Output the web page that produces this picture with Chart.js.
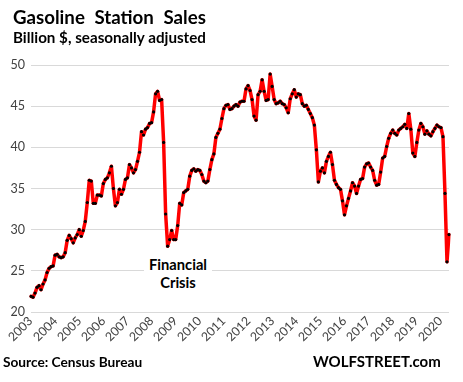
<!DOCTYPE html>
<html><head><meta charset="utf-8">
<script src="https://cdn.jsdelivr.net/npm/chart.js@4"></script>
<style>
html,body{margin:0;padding:0;background:#fff;}
#wrap{position:relative;width:463px;height:382px;overflow:hidden;font-family:Lato,'Open Sans',sans-serif;}
canvas{position:absolute;left:0;top:0;}
.t{position:absolute;white-space:pre;font-weight:bold;color:#000;line-height:1;}
.xl{position:absolute;white-space:pre;font-size:12.3px;line-height:12px;height:12px;color:#404040;transform-origin:100% 50%;transform:rotate(-45deg);}
#note{position:absolute;left:144px;top:255px;width:68px;height:38px;background:#fff;text-align:center;font-weight:bold;font-size:14.7px;line-height:18px;color:#000;}
</style></head><body>
<div id="wrap">
<canvas id="c" width="463" height="382"></canvas>
<div class="t" style="left:13px;top:8px;font-size:18.7px;word-spacing:5px">Gasoline Station Sales</div>
<div class="t" style="left:13px;top:30px;font-size:15.2px">Billion $, seasonally adjusted</div>
<div id="note">Financial<br>Crisis</div>
<div class="t" style="left:3px;top:355px;font-size:13.7px">Source: Census Bureau</div>
<div class="t" style="left:313px;top:354px;font-size:15px">WOLFSTREET.com</div>
</div>
<script>
const startYear = 2003;
const v2003 = [21.9, 21.8, 22.3, 23.0, 23.2, 22.7, 23.4, 23.9, 24.8, 25.3, 25.5, 25.6];
const v2004 = [26.9, 27.0, 26.7, 26.6, 26.7, 27.2, 28.7, 29.3, 28.9, 28.4, 29.0, 29.4];
const v2005 = [30.0, 29.2, 29.9, 31.0, 33.3, 36.0, 35.9, 33.2, 33.2, 34.2, 34.2, 34.1];
const v2006 = [35.6, 36.1, 36.3, 36.9, 37.7, 35.0, 32.9, 33.3, 34.9, 34.3, 34.9, 36.1];
const v2007 = [36.3, 37.9, 37.5, 36.9, 37.3, 38.3, 39.4, 41.9, 41.5, 42.2, 42.4, 42.9];
const v2008 = [43.0, 44.3, 46.5, 46.8, 45.7, 45.8, 40.6, 31.9, 28.0, 28.8, 29.9, 28.8];
const v2009 = [28.8, 30.5, 33.2, 33.0, 34.5, 34.7, 34.9, 36.5, 37.2, 37.4, 37.1, 37.3];
const v2010 = [37.2, 36.7, 35.9, 35.7, 35.9, 37.3, 38.5, 39.2, 41.2, 41.7, 42.2, 43.5];
const v2011 = [44.7, 45.1, 45.2, 44.6, 44.7, 45.0, 45.2, 45.0, 45.5, 45.6, 45.6, 47.1];
const v2012 = [47.5, 46.9, 45.8, 43.8, 43.3, 46.4, 46.8, 48.2, 46.8, 45.7, 45.8, 48.9];
const v2013 = [47.4, 45.8, 45.3, 45.4, 45.6, 45.3, 45.2, 44.8, 44.2, 45.9, 46.5, 47.0];
const v2014 = [46.1, 46.5, 46.4, 45.3, 45.0, 45.1, 44.6, 44.1, 43.6, 42.7, 39.7, 35.8];
const v2015 = [37.1, 37.5, 36.9, 38.3, 38.9, 39.4, 37.9, 36.0, 35.5, 35.1, 34.9, 33.5];
const v2016 = [31.8, 32.9, 33.8, 34.7, 35.7, 35.3, 34.4, 35.3, 36.1, 36.2, 37.6, 38.0];
const v2017 = [38.1, 37.6, 37.2, 36.0, 35.4, 35.5, 37.0, 38.7, 38.9, 40.1, 41.1, 41.7];
const v2018 = [42.1, 41.7, 41.5, 42.1, 42.3, 42.5, 42.8, 42.3, 44.1, 42.2, 39.3, 38.9];
const v2019 = [40.6, 42.1, 42.9, 42.5, 41.6, 42.0, 41.6, 41.4, 41.9, 42.3, 42.7, 42.5];
const v2020 = [42.4, 41.3, 34.4, 26.1, 29.4];
const yMin = 20, yMax = 50, yStep = 5;

const values = [].concat(v2003, v2004, v2005, v2006, v2007, v2008, v2009, v2010, v2011,
  v2012, v2013, v2014, v2015, v2016, v2017, v2018, v2019, v2020);
const labels = values.map((_, i) => (startYear + Math.floor(i / 12)) + '-' + String(i % 12 + 1).padStart(2, '0'));
const yearLabel = i => (i % 12 === 0 ? labels[i].slice(0, 4) : null);

const chart = new Chart(document.getElementById('c'), {
  type: 'line',
  data: { labels: labels, datasets: [{
    data: values, borderColor: '#ff0000', borderWidth: 3.5, tension: 0, fill: false,
    borderJoinStyle: 'round', borderCapStyle: 'round',
    pointRadius: 1.6, pointBackgroundColor: '#000', pointBorderWidth: 0, pointHoverRadius: 1.6
  }]},
  options: {
    responsive: false, animation: false, devicePixelRatio: 1,
    layout: { padding: { top: 65, right: 14, bottom: 0, left: 0 } },
    plugins: { legend: { display: false }, tooltip: { enabled: false } },
    scales: {
      x: {
        type: 'category', offset: false,
        grid: { display: false }, border: { display: false },
        ticks: { display: false, autoSkip: false, callback: (v, i) => yearLabel(i) },
        afterFit: s => { s.height = 70; }
      },
      y: {
        min: yMin, max: yMax,
        ticks: { stepSize: yStep, padding: 6, color: '#404040', font: { family: 'Lato', size: 12.5 } },
        grid: { color: '#d9d9d9', drawTicks: false, lineWidth: 1 },
        border: { display: false },
        afterFit: s => { s.width = 31; }
      }
    }
  }
});

// rotated year labels, placed at the x scale's tick pixels
const sx = chart.scales.x;
const wrap = document.getElementById('wrap');
const labelTop = chart.chartArea.bottom + 7;
labels.forEach((_, i) => {
  const txt = yearLabel(i);
  if (!txt) return;
  const x = sx.getPixelForValue(i);
  const d = document.createElement('div');
  d.className = 'xl';
  d.textContent = txt;
  d.style.right = (463 - x) + 'px';
  d.style.top = (labelTop - 6) + 'px';
  wrap.appendChild(d);
});
</script>
</body></html>
